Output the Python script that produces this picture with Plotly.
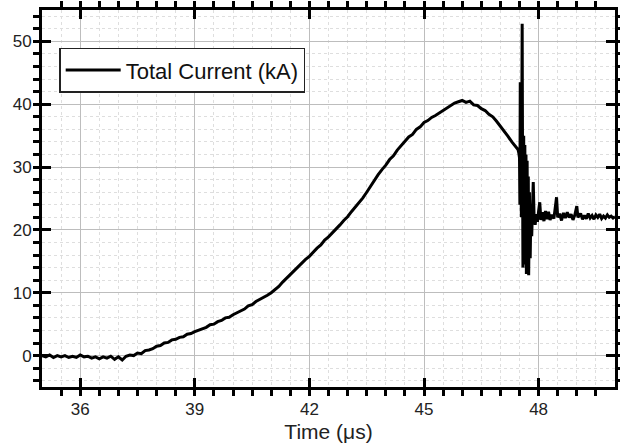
import plotly.graph_objects as go

# Time (us) and total current (kA)
time_us = [
    35.0, 35.1, 35.2, 35.3, 35.4, 35.5, 35.6, 35.7, 35.8, 35.9,
    36.0, 36.1, 36.2, 36.3, 36.4, 36.5, 36.6, 36.7, 36.8, 36.9,
    37.0, 37.1, 37.2, 37.3, 37.4, 37.5, 37.6, 37.7, 37.8, 37.9,
    38.0, 38.1, 38.2, 38.3, 38.4, 38.5, 38.6, 38.7, 38.8, 38.9,
    39.0, 39.1, 39.2, 39.3, 39.4, 39.5, 39.6, 39.7, 39.8, 39.9,
    40.0, 40.1, 40.2, 40.3, 40.4, 40.5, 40.6, 40.7, 40.8, 40.9,
    41.0, 41.1, 41.2, 41.3, 41.4, 41.5, 41.6, 41.7, 41.8, 41.9,
    42.0, 42.1, 42.2, 42.3, 42.4, 42.5, 42.6, 42.7, 42.8, 42.9,
    43.0, 43.1, 43.2, 43.3, 43.4, 43.5, 43.6, 43.7, 43.8, 43.9,
    44.0, 44.1, 44.2, 44.3, 44.4, 44.5, 44.6, 44.7, 44.8, 44.9,
    45.0, 45.1, 45.2, 45.3, 45.4, 45.5, 45.6, 45.7, 45.8, 45.9,
    46.0, 46.1, 46.2, 46.3, 46.4, 46.5, 46.6, 46.7, 46.8, 46.9,
    47.0, 47.1, 47.2, 47.3, 47.4, 47.46, 47.48, 47.50, 47.51, 47.52,
    47.53, 47.55, 47.57, 47.58, 47.59, 47.61, 47.62, 47.64, 47.65, 47.67,
    47.68, 47.70, 47.71, 47.73, 47.74, 47.76, 47.78, 47.80, 47.82, 47.84,
    47.86, 47.88, 47.91, 47.94, 47.97, 48.00, 48.03, 48.06, 48.10, 48.14,
    48.18, 48.22, 48.26, 48.30, 48.35, 48.40, 48.44, 48.47, 48.50, 48.55,
    48.60, 48.65, 48.70, 48.75, 48.80, 48.85, 48.90, 48.95, 49.00, 49.03,
    49.10, 49.15, 49.20, 49.25, 49.30, 49.35, 49.40, 49.45, 49.50, 49.55,
    49.60, 49.65, 49.70, 49.75, 49.80, 49.85, 49.90, 49.95, 50.00,
]
current_ka = [
    0.0, -0.2, 0.1, -0.3, 0.0, -0.2, 0.0, -0.3, -0.1, -0.3,
    0.1, -0.2, -0.1, -0.4, -0.2, -0.5, -0.2, -0.4, -0.1, -0.6,
    -0.2, -0.7, -0.1, 0.1, 0.0, 0.4, 0.3, 0.8, 0.9, 1.1,
    1.5, 1.6, 2.0, 2.1, 2.5, 2.6, 2.9, 3.0, 3.4, 3.5,
    3.8, 4.0, 4.3, 4.5, 4.9, 5.0, 5.4, 5.6, 6.0, 6.1,
    6.5, 6.8, 7.2, 7.4, 7.9, 8.1, 8.6, 8.9, 9.3, 9.6,
    10.0, 10.5, 11.0, 11.7, 12.3, 13.0, 13.6, 14.2, 14.7, 15.3,
    15.8, 16.5, 17.1, 17.6, 18.4, 18.9, 19.5, 20.2, 20.8, 21.5,
    22.1, 22.9, 23.6, 24.4, 25.1, 26.0, 27.0, 27.9, 28.8, 29.6,
    30.3, 31.2, 31.8, 32.7, 33.4, 34.0, 34.8, 35.2, 36.0, 36.4,
    37.1, 37.4, 37.9, 38.2, 38.6, 38.9, 39.4, 39.8, 40.2, 40.4,
    40.6, 40.3, 40.5, 39.9, 39.8, 39.3, 39.0, 38.4, 38.0, 37.3,
    36.5, 35.8, 34.9, 34.0, 33.3, 32.8, 32.3, 31.5, 24.0, 43.5,
    30.0, 22.0, 52.8, 30.0, 14.0, 35.0, 15.5, 33.5, 14.5, 32.0,
    13.0, 31.0, 14.0, 28.5, 12.8, 26.0, 15.5, 24.0, 19.0, 23.5,
    27.6, 22.5, 20.8, 22.5, 21.3, 23.0, 24.4, 21.6, 22.8, 21.4,
    23.0, 21.7, 22.9, 21.6, 22.4, 21.8, 23.4, 25.2, 22.0, 22.6,
    21.5, 22.7, 21.9, 22.8, 22.0, 22.5, 21.6, 22.4, 23.8, 22.0,
    22.6, 21.7, 22.3, 21.8, 22.6, 21.9, 22.3, 21.7, 22.4, 22.0,
    22.5, 21.8, 22.2, 21.9, 22.4, 22.0, 22.2, 21.9, 22.1,
]

fig = go.Figure()
fig.add_trace(go.Scatter(
    x=time_us, y=current_ka, mode="lines",
    name="Total Current (kA)",
    line=dict(color="black", width=3),
))

font_family = "Liberation Sans, Arial"

axis_common = dict(
    showline=True, linecolor="black", linewidth=3, mirror="allticks",
    ticks="inside", ticklen=9, tickwidth=3, tickcolor="black",
    showgrid=True, gridcolor="#bdbdbd", gridwidth=1,
    zeroline=False, automargin=False,
    tickfont=dict(family=font_family, size=17, color="#222"),
)
minor_common = dict(ticklen=6, tickwidth=2.5, tickcolor="black",
                    showgrid=True, gridcolor="#dedede", griddash="dot", gridwidth=1)

fig.update_xaxes(
    range=[35, 50], tick0=36, dtick=3,
    minor=dict(dtick=0.5, **minor_common),
    title=dict(text="Time (μs)", standoff=6,
               font=dict(family=font_family, size=21, color="#222")),
    ticklabelstandoff=5,
    **axis_common,
)
fig.update_yaxes(
    range=[-5, 55], tick0=0, dtick=10,
    minor=dict(dtick=2, **minor_common),
    ticklabelstandoff=4,
    **axis_common,
)

fig.update_layout(
    width=620, height=448,
    margin=dict(l=42, r=5, t=10, b=61),
    plot_bgcolor="white", paper_bgcolor="white",
    showlegend=True,
    legend=dict(
        x=0.03, y=0.9, xanchor="left", yanchor="top",
        bgcolor="white", bordercolor="#222", borderwidth=1.5,
        font=dict(family=font_family, size=22, color="#111"),
        itemwidth=55,
    ),
)

# drop the browser's default 8px body margin so the figure fills the window
fig.write_html("out.html", config={"displayModeBar": False},
               post_script="document.body.style.margin='0';")
